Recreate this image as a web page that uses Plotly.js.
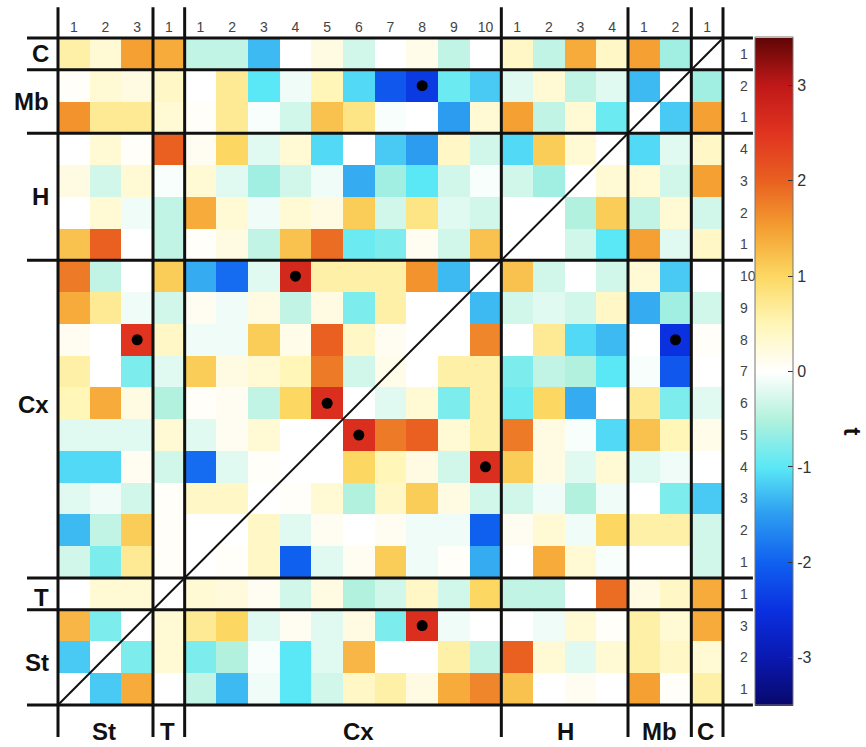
<!DOCTYPE html>
<html>
<head>
<meta charset="utf-8">
<script src="https://cdn.plot.ly/plotly-3.0.1.min.js"></script>
<style>
html,body{margin:0;padding:0;background:#fff;}
#chart{width:866px;height:747px;}
</style>
</head>
<body>
<div id="chart"></div>
<script>
// ---- groups (order left->right on x, top->bottom on y reversed) ----
const groupNames = ['St', 'T', 'Cx', 'H', 'Mb', 'C'];
const groupSizes = [3, 1, 10, 4, 2, 1];

// column labels (left -> right)
const colNames = ['St1','St2','St3','T1','Cx1','Cx2','Cx3','Cx4','Cx5','Cx6','Cx7','Cx8','Cx9','Cx10','H1','H2','H3','H4','Mb1','Mb2','C1'];
const colTicks = ['1','2','3','1','1','2','3','4','5','6','7','8','9','10','1','2','3','4','1','2','1'];

// row labels (top -> bottom)
const rowNames = ['C1','Mb2','Mb1','H4','H3','H2','H1','Cx10','Cx9','Cx8','Cx7','Cx6','Cx5','Cx4','Cx3','Cx2','Cx1','T1','St3','St2','St1'];
const rowTicks = ['1','2','1','4','3','2','1','10','9','8','7','6','5','4','3','2','1','1','3','2','1'];

// ---- t values, one row each (columns in colNames order) ----
const rowC1   = [0.6, 0.3, 1.5, 1.4, -0.4, -0.4, -1.3, 0, 0.2, -0.3, 0, 0.15, -0.4, 0, 0.4, -0.4, 1.4, 0.4, 1.5, -0.6, 0];
const rowMb2  = [0.05, 0.3, 0.2, 0.4, 0, 0.7, -1.0, -0.1, 0.5, -1.1, -2.1, -2.4, -0.9, -1.2, -0.2, 0.3, -0.4, -0.2, -1.3, 0, -0.6];
const rowMb1  = [1.6, 0.7, 0.7, 0.3, 0.05, 0.7, -0.05, -0.3, 1.2, 0.8, -0.05, 0, -1.5, 0.3, 1.5, -0.4, 0.3, -0.9, 0, -1.2, 1.5];
const rowH4   = [0, 0.3, 0.05, 2.0, 0.1, 1.0, -0.2, 0.3, -1.1, 0, -1.2, -1.5, 0.4, -0.3, -1.1, 1.1, 0.3, 0, -1.1, -0.2, 0.4];
const rowH3   = [0.2, -0.3, 0.3, -0.05, 0.3, -0.2, -0.6, -0.3, -0.1, -1.4, -0.6, -1.0, -0.3, -0.05, -0.3, -0.6, 0, 0.3, 0.3, -0.3, 1.5];
const rowH2   = [0, 0.3, -0.1, -0.4, 1.4, 0.3, -0.1, 0.3, 0.2, 1.1, -0.3, 0.8, -0.2, -0.3, 0, 0, -0.5, 1.1, -0.4, 0.3, -0.3];
const rowH1   = [1.2, 2.0, 0, -0.4, 0.05, 0.2, -0.4, 1.2, 1.9, -0.9, -0.8, 0.1, -0.3, 1.2, 0, 0, -0.3, -1.0, 1.5, -0.2, 0.4];
const rowCx10 = [1.8, -0.4, 0, 1.1, -1.4, -1.9, -0.2, 2.7, 0.6, 0.6, 0.6, 1.6, -1.3, 0, 1.2, -0.3, 0, -0.3, 0.3, -1.2, 0];
const rowCx9  = [1.4, 0.7, -0.1, -0.3, 0.1, -0.1, 0.2, -0.4, 0.2, -0.8, 0.6, 0, 0, -1.3, -0.3, -0.2, -0.3, 0.4, -1.4, -0.6, -0.3];
const rowCx8  = [0.1, 0, 2.5, 0.4, -0.1, -0.1, 1.1, 0.15, 2.0, 0.4, 0.1, 0, 0, 1.7, 0, 0.7, -1.1, -1.3, 0, -2.5, 0.05];
const rowCx7  = [0.6, 0, -0.8, -0.2, 1.1, 0.2, 0.3, 0.5, 1.8, -0.3, 0.15, 0, 0.6, 0.6, -0.8, -0.4, -0.5, -1.0, -0.05, -2.1, 0];
const rowCx6  = [0.5, 1.4, 0.2, -0.5, 0.05, 0.1, -0.4, 1.0, 2.6, 0, -0.2, 0.3, -0.8, 0.6, -0.9, 1.0, -1.4, 0, 0.7, -0.8, -0.2];
const rowCx5  = [-0.2, -0.2, -0.2, 0.3, -0.2, 0.1, 0.3, 0, 0, 2.6, 1.8, 2.0, 0.3, 0.6, 1.8, 0.2, -0.05, -1.1, 1.2, 0.5, 0.15];
const rowCx4  = [-1.1, -1.1, 0.1, -0.3, -1.9, -0.2, 0.05, 0, 0, 1.0, 0.5, 0.2, -0.3, 2.6, 1.1, 0.2, -0.2, 0.3, -0.2, -0.1, 0];
const rowCx3  = [-0.2, -0.1, -0.3, 0.05, 0.4, 0.4, 0, 0.05, 0.3, -0.5, 0.4, 1.1, 0.2, -0.3, -0.3, -0.1, -0.5, -0.1, 0, -0.8, -1.2];
const rowCx2  = [-1.3, -0.4, 1.1, 0.05, 0, 0, 0.4, -0.2, 0.1, 0, 0.1, -0.1, -0.1, -2.0, 0.1, 0.3, -0.1, 1.0, 0.6, 0.6, -0.3];
const rowCx1  = [-0.3, -0.8, 0.7, 0.05, 0, 0.05, 0.4, -2.0, -0.2, 0.1, 1.1, -0.1, 0.05, -1.4, 0, 1.4, 0.3, -0.05, 0, 0, -0.3];
const rowT1   = [0, 0.3, 0.3, 0, 0.3, 0.25, 0.1, -0.3, 0.2, -0.5, -0.3, 0.4, -0.3, 1.0, -0.4, -0.4, 0, 1.9, 0.2, 0.4, 1.4];
const rowSt3  = [1.3, -0.8, 0, 0.3, 0.7, 1.0, -0.2, 0.1, -0.2, 0.2, -0.8, 2.6, -0.1, 0, 0, -0.1, 0.3, 0.05, 0.6, 0.3, 1.4];
const rowSt2  = [-1.2, 0, -0.8, 0.3, -0.8, -0.5, -0.05, -1.0, -0.2, 1.3, 0, 0, 0.6, -0.4, 2.0, 0.3, -0.2, 0.3, 0.6, 0.4, 0.3];
const rowSt1  = [0, -1.2, 1.4, 0, -0.4, -1.3, -0.1, -1.0, -0.3, 0.4, 0.6, 0.2, 1.4, 1.7, 1.2, 0, 0.1, 0, 1.5, 0.05, 0.6];

// significant cells (black dots): column name, row name
const dotCols = ['Cx8', 'Cx4', 'St3', 'Mb2', 'Cx5', 'Cx6', 'Cx10', 'Cx8'];
const dotRows = ['Mb2', 'Cx10', 'Cx8', 'Cx8', 'Cx6', 'Cx5', 'Cx4', 'St3'];

const zRows = [rowC1, rowMb2, rowMb1, rowH4, rowH3, rowH2, rowH1, rowCx10, rowCx9, rowCx8, rowCx7,
               rowCx6, rowCx5, rowCx4, rowCx3, rowCx2, rowCx1, rowT1, rowSt3, rowSt2, rowSt1];

const N = colNames.length;
const idxX = colNames.map((_, i) => i);
const idxY = rowNames.map((_, i) => i);

const colorscale = [
  [0.000, '#08086a'],
  [0.071, '#0a18b0'],
  [0.143, '#0a30e0'],
  [0.214, '#1060f0'],
  [0.286, '#2c9cf0'],
  [0.357, '#5ae8f6'],
  [0.429, '#b2f1dd'],
  [0.500, '#ffffff'],
  [0.571, '#fff6b8'],
  [0.643, '#fcd862'],
  [0.714, '#f4a032'],
  [0.786, '#e96020'],
  [0.857, '#e03420'],
  [0.929, '#c01818'],
  [1.000, '#600606']
];

const heat = {
  type: 'heatmap',
  x: idxX, y: idxY, z: zRows,
  zmin: -3.5, zmax: 3.5,
  colorscale: colorscale,
  hoverinfo: 'skip',
  colorbar: {
    x: 1.048, xanchor: 'left', xpad: 0, ypad: 0,
    y: 0.5, yanchor: 'middle', len: 1.002, thickness: 38,
    outlinewidth: 1, outlinecolor: '#777',
    tickvals: [-3, -2, -1, 0, 1, 2, 3],
    ticktext: ['-3', '-2', '-1', '0', '1', '2', '3'],
    ticks: 'inside', ticklen: 5, tickcolor: '#333', tickwidth: 1,
    tickfont: {family: 'Liberation Sans, Arial, sans-serif', size: 16, color: '#333'}
  }
};

const dots = {
  type: 'scatter', mode: 'markers',
  x: dotCols.map(c => colNames.indexOf(c)),
  y: dotRows.map(r => rowNames.indexOf(r)),
  marker: {color: '#000', size: 11},
  hoverinfo: 'skip', showlegend: false
};

// group boundaries (cumulative cell counts)
const bounds = [0];
groupSizes.forEach(s => bounds.push(bounds[bounds.length - 1] + s));
const lineStyle = {color: '#111', width: 3};
const shapes = [];
bounds.forEach(b => {
  const px = b / N;
  shapes.push({type: 'line', xref: 'paper', yref: 'paper', x0: px, x1: px, y0: -0.048, y1: 1.046, line: lineStyle});
});
bounds.forEach(b => {
  const py = b / N;
  shapes.push({type: 'line', xref: 'paper', yref: 'paper', x0: -0.0466, x1: 1.045, y0: py, y1: py, line: lineStyle});
});
// diagonal
shapes.push({type: 'line', xref: 'x', yref: 'y', x0: -0.5, y0: N - 0.5, x1: N - 0.5, y1: -0.5,
             line: {color: '#111', width: 2}});

const labFont = {family: 'Liberation Sans, Arial, sans-serif', size: 24, color: '#111', weight: 'bold'};
const annotations = [];
const leftY = {C: 0, Mb: 1.5, H: 4.5, Cx: 11.05, T: 17.1, St: 19.15};
Object.keys(leftY).forEach(g => {
  annotations.push({xref: 'paper', yref: 'y', x: -0.011, y: leftY[g], xanchor: 'right', yanchor: 'middle',
    text: '<b>' + g + '</b>', showarrow: false, font: labFont});
});
const botX = {St: 0.95, T: 2.97, Cx: 9.0, H: 15.54, Mb: 18.48, C: 19.96};
Object.keys(botX).forEach(g => {
  annotations.push({xref: 'x', yref: 'paper', x: botX[g], y: -0.039, xanchor: 'center', yanchor: 'middle',
    text: '<b>' + g + '</b>', showarrow: false, font: labFont});
});
// colorbar label
annotations.push({xref: 'paper', yref: 'paper', x: 1.194, y: 0.41, xanchor: 'center', yanchor: 'middle',
  text: '<b>t</b>', textangle: 90, showarrow: false,
  font: {family: 'Liberation Sans, Arial, sans-serif', size: 24, color: '#111'}});

const tickFont = {family: 'Liberation Sans, Arial, sans-serif', size: 14, color: '#444'};
const layout = {
  width: 866, height: 747,
  margin: {l: 58, r: 143, t: 38, b: 42, pad: 0},
  paper_bgcolor: '#fff', plot_bgcolor: '#fff',
  showlegend: false,
  xaxis: {
    side: 'top', range: [-0.5, N - 0.5], tickvals: idxX, ticktext: colTicks,
    ticks: '', showgrid: false, zeroline: false, showline: false, tickfont: tickFont, fixedrange: true,
    ticklabelstandoff: 2
  },
  yaxis: {
    side: 'right', range: [N - 0.5, -0.5], tickvals: idxY, ticktext: rowTicks,
    ticks: '', showgrid: false, zeroline: false, showline: false, tickfont: tickFont, fixedrange: true,
    ticklabelstandoff: 16
  },
  shapes: shapes,
  annotations: annotations
};

Plotly.newPlot('chart', [heat, dots], layout, {displayModeBar: false, staticPlot: true});
</script>
</body>
</html>
